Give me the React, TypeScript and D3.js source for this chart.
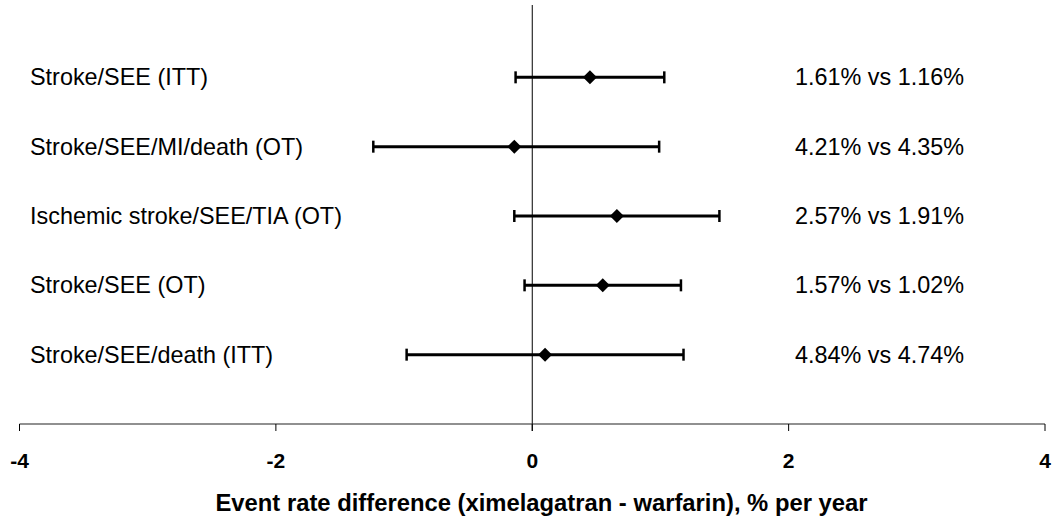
import * as d3 from 'd3';

const W = 1057;
const H = 520;

const outcomes = [
  'Stroke/SEE (ITT)',
  'Stroke/SEE/MI/death (OT)',
  'Ischemic stroke/SEE/TIA (OT)',
  'Stroke/SEE (OT)',
  'Stroke/SEE/death (ITT)',
];
const estimates = [0.45, -0.14, 0.66, 0.55, 0.10];
const lowerCI = [-0.13, -1.24, -0.14, -0.06, -0.98];
const upperCI = [1.03, 0.99, 1.46, 1.16, 1.18];
const rateLabels = [
  '1.61% vs 1.16%',
  '4.21% vs 4.35%',
  '2.57% vs 1.91%',
  '1.57% vs 1.02%',
  '4.84% vs 4.74%',
];
const xTicks = [-4, -2, 0, 2, 4];
const xTitle = 'Event rate difference (ximelagatran - warfarin), % per year';

const FONT = '"Liberation Sans", Arial, sans-serif';

export default function App() {
  const x = d3.scaleLinear().domain([-4, 4]).range([19.5, 1045]);
  const axisY = 424;
  const y = d3.scalePoint<string>().domain(outcomes).range([8, axisY]).padding(1);
  const diamond = d3.symbol().type(d3.symbolDiamond2).size(125)();

  return (
    <svg
      width={W}
      height={H}
      style={{ position: 'absolute', left: 0, top: 0, background: '#fff' }}
      fontFamily={FONT}
    >
      {/* zero reference line */}
      <line x1={x(0)} x2={x(0)} y1={5} y2={431} stroke="#000" strokeWidth={1} />

      {/* x axis */}
      <line x1={x(-4)} x2={x(4)} y1={axisY} y2={axisY} stroke="#222" strokeWidth={1.2} />
      {xTicks.map((t) => (
        <g key={t}>
          <line x1={x(t)} x2={x(t)} y1={axisY} y2={431} stroke="#000" strokeWidth={1} />
          <text
            x={x(t)}
            y={460}
            textAnchor="middle"
            dominantBaseline="central"
            fontSize={21}
            fontWeight="bold"
          >
            {t}
          </text>
        </g>
      ))}
      <text
        x={(215 + 868) / 2}
        y={502}
        textAnchor="middle"
        dominantBaseline="central"
        fontSize={23.8}
        fontWeight="bold"
      >
        {xTitle}
      </text>

      {outcomes.map((o, i) => {
        const cy = y(o)!;
        return (
          <g key={o}>
            <text x={30} y={cy} dominantBaseline="central" fontSize={23.4}>
              {o}
            </text>
            <line x1={x(lowerCI[i])} x2={x(upperCI[i])} y1={cy} y2={cy} stroke="#000" strokeWidth={3} />
            <line x1={x(lowerCI[i])} x2={x(lowerCI[i])} y1={cy - 6} y2={cy + 6} stroke="#000" strokeWidth={2.5} />
            <line x1={x(upperCI[i])} x2={x(upperCI[i])} y1={cy - 6} y2={cy + 6} stroke="#000" strokeWidth={2.5} />
            <path d={diamond!} transform={`translate(${x(estimates[i])},${cy})`} fill="#000" />
            <text x={795} y={cy} dominantBaseline="central" fontSize={23.4}>
              {rateLabels[i]}
            </text>
          </g>
        );
      })}
    </svg>
  );
}
